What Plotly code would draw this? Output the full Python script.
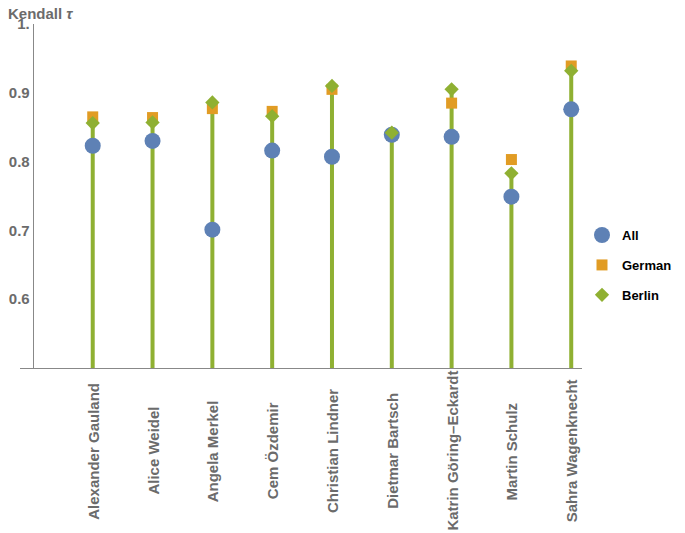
import plotly.graph_objects as go

politiker = [
    "Alexander Gauland",
    "Alice Weidel",
    "Angela Merkel",
    "Cem Özdemir",
    "Christian Lindner",
    "Dietmar Bartsch",
    "Katrin Göring–Eckardt",
    "Martin Schulz",
    "Sahra Wagenknecht",
]

tau_all = [0.823, 0.830, 0.701, 0.816, 0.807, 0.839, 0.836, 0.749, 0.876]
tau_german = [0.865, 0.864, 0.877, 0.873, 0.905, 0.838, 0.885, 0.803, 0.939]
tau_berlin = [0.856, 0.857, 0.886, 0.866, 0.910, 0.842, 0.905, 0.783, 0.932]

y_tickvals = [0.6, 0.7, 0.8, 0.9, 1.0]
y_ticktext = ["0.6", "0.7", "0.8", "0.9", "1."]

BLAU = "#5E81B5"
ORANGE = "#E19C24"
GRUEN = "#8FB032"
GRAU = "#6b6b6b"
SCHRIFT = "Liberation Sans, Arial, sans-serif"

pos = list(range(len(politiker)))
basis = 0.5

# Stiele vom Boden bis zum Berlin-Wert
stiel_x, stiel_y = [], []
for i, wert in zip(pos, tau_berlin):
    stiel_x += [i, i, None]
    stiel_y += [basis, wert, None]

fig = go.Figure()
fig.add_trace(
    go.Scatter(
        x=stiel_x, y=stiel_y, mode="lines",
        line=dict(color=GRUEN, width=4),
        showlegend=False, hoverinfo="skip",
    )
)
fig.add_trace(
    go.Scatter(
        x=pos, y=tau_german, mode="markers", name="German",
        marker=dict(symbol="square", size=11, color=ORANGE),
        legendgroup="g", legendrank=2,
    )
)
fig.add_trace(
    go.Scatter(
        x=pos, y=tau_all, mode="markers", name="All",
        marker=dict(symbol="circle", size=16, color=BLAU),
        legendgroup="a", legendrank=1,
    )
)
fig.add_trace(
    go.Scatter(
        x=pos, y=tau_berlin, mode="markers", name="Berlin",
        marker=dict(symbol="diamond", size=11, color=GRUEN),
        legendgroup="b", legendrank=3,
    )
)

# Namen senkrecht, mittig unter der Achse
for i, name in zip(pos, politiker):
    fig.add_annotation(
        x=i, y=-0.2413, xref="x", yref="paper",
        text=name, textangle=-90, showarrow=False,
        xanchor="center", yanchor="middle",
        font=dict(family=SCHRIFT, size=15, color=GRAU, weight="bold"),
    )

fig.add_annotation(
    x=-0.025, y=1.03, xref="paper", yref="paper",
    text="Kendall <i>τ</i>", showarrow=False,
    xanchor="left", yanchor="middle",
    font=dict(family=SCHRIFT, size=15, color=GRAU, weight="bold"),
)

fig.update_layout(
    width=685, height=533,
    margin=dict(l=12, r=111, t=16, b=173),
    plot_bgcolor="white", paper_bgcolor="white",
    font=dict(family=SCHRIFT),
    legend=dict(
        x=1.0, y=0.43, xanchor="left", yanchor="top",
        font=dict(size=13, color="black", weight="bold"),
        tracegroupgap=10,
    ),
    xaxis=dict(
        range=[-1.216, 8.18], showgrid=False, zeroline=False, automargin=False,
        showticklabels=False, showline=True, linecolor="#888888", linewidth=1,
    ),
    yaxis=dict(
        range=[0.5, 1.0], anchor="free", position=0.0226, automargin=False,
        tickvals=y_tickvals, ticktext=y_ticktext,
        showgrid=False, zeroline=False, showline=True,
        linecolor="#888888", linewidth=1,
        tickfont=dict(size=15, color=GRAU, weight="bold"),
    ),
)

fig.write_html("out.html")
